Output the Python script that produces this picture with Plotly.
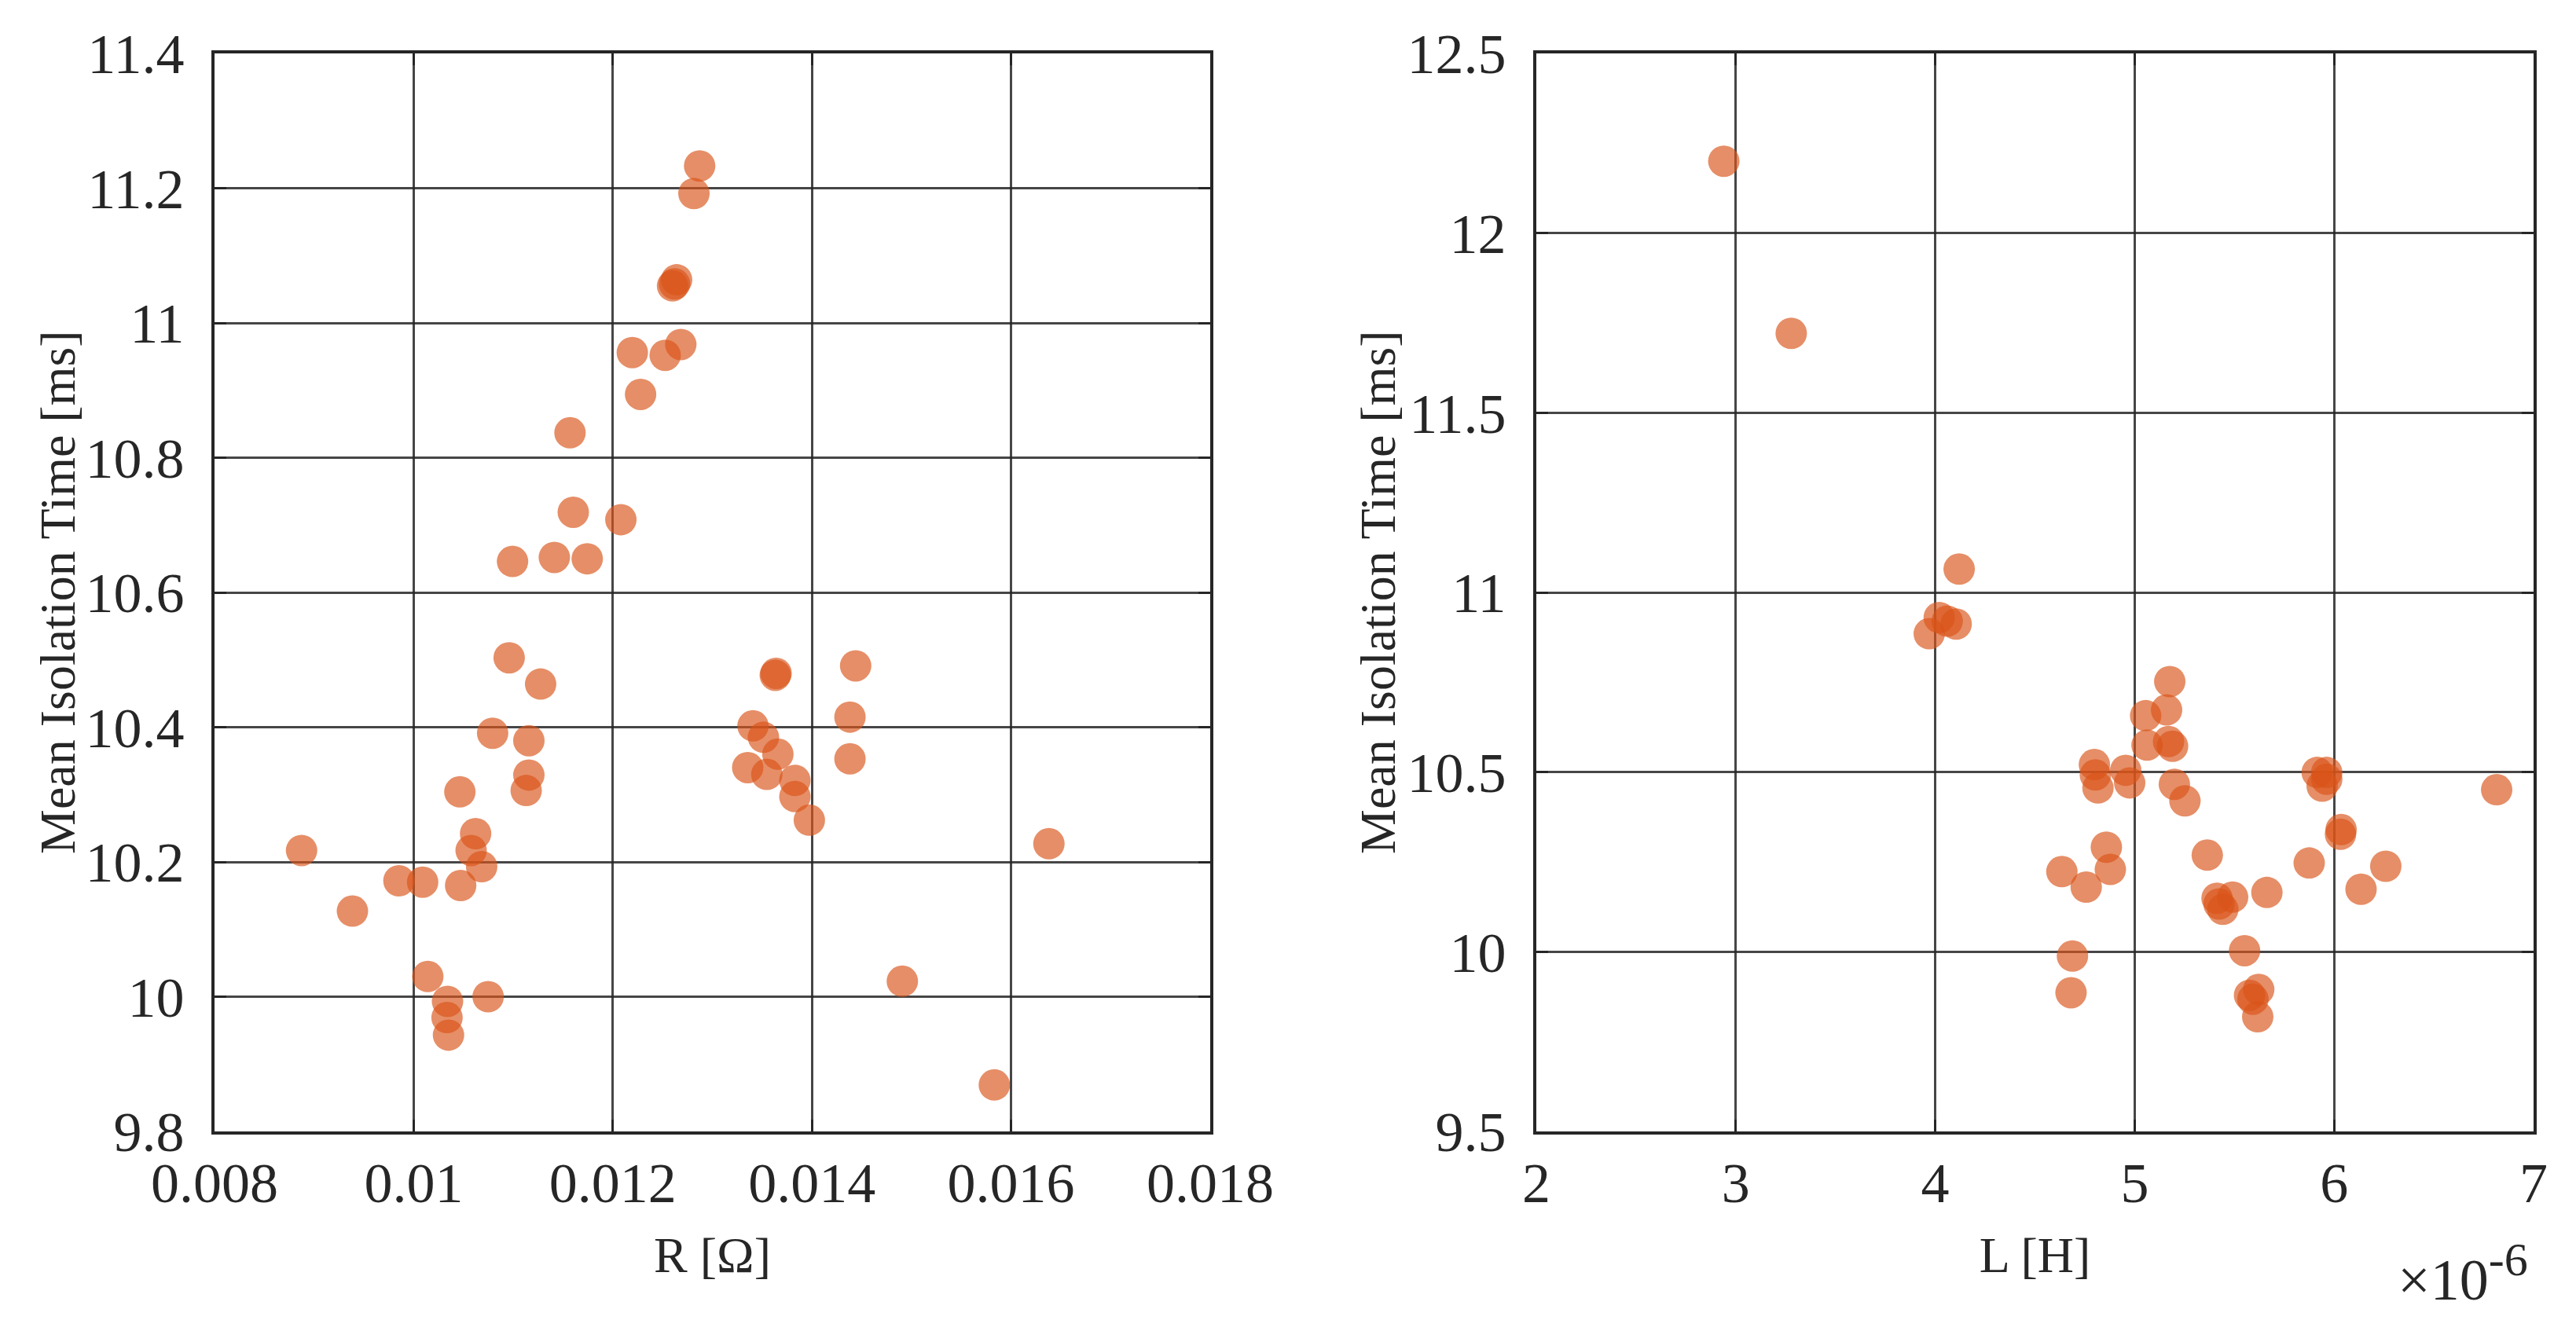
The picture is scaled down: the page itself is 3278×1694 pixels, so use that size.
import plotly.graph_objects as go
from plotly.subplots import make_subplots

# left panel: resistance vs mean isolation time
r_ohm = [0.008874, 0.009385, 0.009852, 0.010090, 0.010142, 0.010340, 0.010335,
         0.010350, 0.010464, 0.010472, 0.010622, 0.010577, 0.010683, 0.010748,
         0.010793, 0.010959, 0.010993, 0.011157, 0.011157, 0.011130, 0.011275,
         0.011413, 0.011570, 0.011603, 0.011743, 0.012081, 0.012196, 0.012279,
         0.012526, 0.012683, 0.012600, 0.012641, 0.012620, 0.012815, 0.012872,
         0.013355, 0.013408, 0.013513, 0.013547, 0.013658, 0.013632, 0.013640,
         0.013829, 0.013829, 0.013974, 0.014382, 0.014382, 0.014439, 0.014908,
         0.015832, 0.016380]
t_r = [10.217, 10.127, 10.172, 10.170, 10.030, 9.993, 9.969, 9.943, 10.304,
       10.165, 10.242, 10.217, 10.193, 10.000, 10.391, 10.503, 10.646, 10.380,
       10.329, 10.306, 10.464, 10.652, 10.837, 10.719, 10.650, 10.708, 10.956,
       10.894, 10.952, 10.968, 11.055, 11.064, 11.058, 11.192, 11.233, 10.340,
       10.402, 10.385, 10.330, 10.360, 10.477, 10.480, 10.321, 10.297, 10.262,
       10.353, 10.415, 10.491, 10.023, 9.869, 10.227]

# right panel: inductance (in units of 1e-6 H) vs mean isolation time
l_micro = [2.940, 3.278, 3.970, 4.020, 4.060, 4.105, 4.120, 5.176, 5.160, 5.055,
           5.062, 5.170, 5.190, 4.798, 4.803, 4.816, 4.955, 4.975, 5.199, 5.252,
           5.915, 5.963, 5.940, 5.963, 6.035, 6.032, 5.875, 6.259, 6.135, 5.364,
           4.858, 4.878, 4.635, 4.757, 5.413, 5.491, 5.442, 5.423, 5.663, 5.551,
           4.688, 4.681, 5.576, 5.622, 5.617, 5.593, 6.815]
t_l = [12.200, 11.721, 10.885, 10.930, 10.920, 10.912, 11.065, 10.752, 10.673,
       10.657, 10.575, 10.585, 10.572, 10.521, 10.492, 10.456, 10.505, 10.470,
       10.466, 10.420, 10.499, 10.480, 10.461, 10.499, 10.340, 10.327, 10.247,
       10.238, 10.174, 10.269, 10.291, 10.229, 10.223, 10.180, 10.149, 10.152,
       10.118, 10.133, 10.165, 10.003, 9.988, 9.886, 9.879, 9.895, 9.819,
       9.868, 10.451]
l_henry = [v * 1e-6 for v in l_micro]

r_ticks = [0.008, 0.01, 0.012, 0.014, 0.016, 0.018]
r_ticktext = ["0.008", "0.01", "0.012", "0.014", "0.016", "0.018"]
l_ticks = [2e-6, 3e-6, 4e-6, 5e-6, 6e-6, 7e-6]
l_ticktext = ["2", "3", "4", "5", "6", "7"]

# page is 3278x1694, the plot div sits inside an 8 px body margin
PAD = 8
W, H = 3278 - 2 * PAD, 1694 - 2 * PAD
INK = "#262626"
FONT = "Liberation Serif"
ORANGE = "#D95319"
Y_TITLE = "Mean Isolation Time [ms]"


def px_x(p):
    return (p - PAD) / W


def px_y(p):
    return (H - (p - PAD)) / H


fig = make_subplots(rows=1, cols=2)

fig.add_trace(go.Scatter(x=r_ohm, y=t_r, mode="markers",
                         marker=dict(size=40, color=ORANGE, opacity=0.66,
                                     line=dict(width=0))),
              row=1, col=1)
fig.add_trace(go.Scatter(x=l_henry, y=t_l, mode="markers",
                         marker=dict(size=40, color=ORANGE, opacity=0.66,
                                     line=dict(width=0))),
              row=1, col=2)

axis_style = dict(
    showline=True, linecolor=INK, linewidth=4, mirror="ticks",
    ticks="inside", ticklen=15, tickwidth=3, tickcolor=INK,
    showgrid=True, gridcolor="rgba(38,38,38,0.85)", gridwidth=3,
    zeroline=False, automargin=False,
    tickfont=dict(family=FONT, size=72, color=INK),
)

fig.update_xaxes(**axis_style)
fig.update_yaxes(**axis_style)

fig.update_xaxes(domain=[px_x(273), px_x(1540)], range=[0.008, 0.018],
                 tickvals=r_ticks, ticktext=r_ticktext, ticklabelstandoff=0,
                 title=dict(text="R [Ω]", font=dict(family=FONT, size=64, color=INK),
                            standoff=30),
                 row=1, col=1)
fig.update_xaxes(domain=[px_x(1955), px_x(3224)], range=[2e-6, 7e-6],
                 tickvals=l_ticks, ticktext=l_ticktext, ticklabelstandoff=0,
                 title=dict(text="L [H]", font=dict(family=FONT, size=64, color=INK),
                            standoff=30),
                 row=1, col=2)

y_dom = [px_y(1440), px_y(68)]
fig.update_yaxes(domain=y_dom, range=[9.8, 11.4], dtick=0.2, ticklabelstandoff=20,
                 row=1, col=1)
fig.update_yaxes(domain=y_dom, range=[9.5, 12.5], dtick=0.5, ticklabelstandoff=20,
                 row=1, col=2)

# y titles placed as rotated annotations, ~200 px left of each axis
for xc in (73, 1753):
    fig.add_annotation(text=Y_TITLE, xref="paper", yref="paper",
                       x=px_x(xc), y=px_y(754), xanchor="center", yanchor="middle",
                       textangle=-90, showarrow=False,
                       font=dict(family=FONT, size=64, color=INK))

# exponent label for the L axis
fig.add_annotation(text="×10<sup><span style='font-size:60px'>-6</span></sup>",
                   xref="paper", yref="paper",
                   x=px_x(3219), y=px_y(1672), xanchor="right", yanchor="bottom",
                   showarrow=False, font=dict(family=FONT, size=74, color=INK))

fig.update_layout(
    width=W, height=H,
    margin=dict(l=0, r=0, t=0, b=0),
    paper_bgcolor="white", plot_bgcolor="white",
    showlegend=False,
)

fig.write_html("out.html")
